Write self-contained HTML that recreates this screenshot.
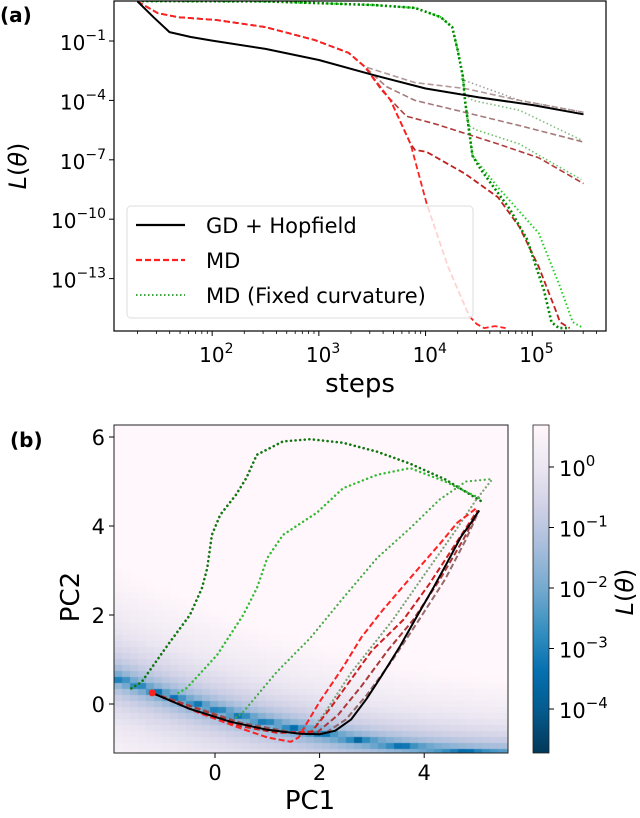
<!DOCTYPE html>
<html><head><meta charset="utf-8"><style>
html,body{margin:0;padding:0;background:#fff;}
svg text{font-family:"DejaVu Sans","Liberation Sans",sans-serif;fill:#000;}
</style></head><body>
<svg id="fig" width="640" height="813" viewBox="0 0 640 813" xmlns="http://www.w3.org/2000/svg">
<defs>
<clipPath id="clipA"><rect x="114" y="1" width="492" height="330"/></clipPath>
<clipPath id="clipB"><rect x="114" y="425" width="394" height="328"/></clipPath>
<linearGradient id="cbar" x1="0" y1="1" x2="0" y2="0">
<stop offset="0" stop-color="#023858"/><stop offset="0.125" stop-color="#045a8d"/><stop offset="0.25" stop-color="#0570b0"/><stop offset="0.375" stop-color="#3690c0"/><stop offset="0.5" stop-color="#74a9cf"/><stop offset="0.625" stop-color="#a6bddb"/><stop offset="0.75" stop-color="#d0d1e6"/><stop offset="0.875" stop-color="#ece7f2"/><stop offset="1" stop-color="#fff7fb"/>
</linearGradient>
</defs>
<text x="0" y="22" font-size="20" font-weight="bold">(a)</text>
<text x="10" y="447" font-size="20" font-weight="bold">(b)</text>
<g id="gA"></g>
<g id="gB"></g>
</svg>
<script>
// ---------- Panel (a) data: [log10(steps), log10(L)] ----------
const xTicksA = [2, 3, 4, 5];
const yTicksA = [-1, -4, -7, -10, -13];
const gdHopfield = [[1.3,1.0],[1.45,0.2],[1.6,-0.55],[1.8,-0.8],[2,-0.98],[2.5,-1.4],[3,-1.96],[3.5,-2.7],[4,-3.4],[4.5,-3.85],[5,-4.23],[5.48,-4.7]];
const redHead = [[1.3,1.0],[1.49,0.41],[1.68,0.2],[2.04,0.06],[2.5,-0.3],[2.96,-0.95],[3.28,-1.6],[3.43,-2.3]];
const mdRed1 = redHead.concat([[3.67,-3.98],[3.86,-6.2],[4.01,-9.2],[4.21,-12.4],[4.41,-14.9],[4.48,-15.3],[4.55,-15.5],[4.65,-15.4],[4.75,-15.5]]);
const mdRed2 = redHead.concat([[3.67,-3.98],[3.86,-6.2],[3.9,-6.5],[4.01,-6.6],[4.37,-7.7],[4.68,-8.9],[4.88,-10.4],[5.06,-12.4],[5.22,-14.6],[5.26,-15.2],[5.35,-15.5]]);
const mdRed3 = redHead.concat([[3.59,-3.5],[3.82,-4.8],[4.1,-5.2],[4.68,-6.2],[5.06,-6.9],[5.48,-8.2]]);
const mdRed4 = redHead.concat([[3.63,-3.3],[3.9,-4.0],[4.29,-4.5],[4.9,-5.3],[5.48,-6.1]]);
const mdRed5 = redHead.concat([[3.9,-3.1],[4.37,-3.4],[4.88,-4.0],[5.48,-4.6]]);
const greenHead = [[1.3,1.02],[2.5,1.0],[3.51,0.82],[3.9,0.67],[4.14,0.21],[4.25,-0.3],[4.3,-1.45],[4.35,-2.8],[4.37,-4.0],[4.41,-5.6],[4.44,-6.8]];
const mdFixed1 = greenHead.concat([[4.52,-7.5],[4.79,-9.5],[4.95,-11],[5.11,-13.6],[5.18,-15.2],[5.25,-15.5],[5.35,-15.5]]);
const mdFixed2 = greenHead.concat([[4.68,-8.4],[5.06,-10.7],[5.26,-13.4],[5.38,-15.2],[5.48,-15.5]]);
const mdFixed3 = [[4.41,-5.3],[4.48,-5.5],[4.88,-6.2],[5.46,-8.0]];
const mdFixed4 = [[4.4,-3.8],[4.44,-4.0],[4.88,-4.5],[5.46,-6.0]];
const mdFixed5 = [[4.33,-2.9],[4.37,-3.0],[4.88,-4.0],[5.48,-4.6]];

// ---------- Panel (b) data: [PC1, PC2] ----------
const xTicksB = [0, 2, 4];
const yTicksB = [0, 2, 4, 6];
const cbTicks = [0, -1, -2, -3, -4];
const trajBlack = [[-1.2,0.25],[-0.5,-0.1],[0.3,-0.4],[1,-0.58],[1.63,-0.67],[2.0,-0.68],[2.3,-0.6],[2.6,-0.35],[2.9,0.12],[3.2,0.66],[3.54,1.3],[3.85,1.95],[4.17,2.6],[4.45,3.2],[4.7,3.75],[4.9,4.08],[5.05,4.35]];
const trajRed1 = [[-1.2,0.25],[-0.3,-0.2],[0.5,-0.55],[1,-0.75],[1.45,-0.85],[1.6,-0.75],[1.68,-0.58],[2.0,0.05],[2.45,0.83],[2.8,1.5],[3.2,2.1],[3.6,2.65],[3.98,3.17],[4.3,3.6],[4.63,4.07],[5.0,4.4]];
const trajRed2 = [[-1.2,0.25],[-0.3,-0.2],[0.5,-0.5],[1.2,-0.65],[1.85,-0.62],[2.2,-0.1],[2.6,0.55],[3.0,1.2],[3.6,1.89],[4.1,2.7],[4.6,3.6],[5.02,4.35]];
const trajRed3 = [[-1.2,0.25],[0.5,-0.45],[1.3,-0.63],[1.95,-0.64],[2.35,-0.25],[2.8,0.4],[3.3,1.2],[3.79,1.89],[4.3,2.8],[4.75,3.7],[5.04,4.35]];
const trajRed4 = [[-1.2,0.25],[0.5,-0.42],[1.5,-0.64],[2.1,-0.66],[2.5,-0.35],[2.9,0.2],[3.4,1.0],[3.9,1.89],[4.4,2.8],[4.8,3.7],[5.05,4.35]];
const trajGreen1 = [[-1.6,0.35],[-1.4,0.5],[-0.9,1.33],[-0.48,2.0],[-0.25,2.6],[-0.15,3.05],[-0.06,3.8],[0.1,4.25],[0.4,4.7],[0.6,5.08],[0.8,5.6],[1.3,5.9],[1.82,5.95],[2.45,5.87],[3.1,5.67],[3.73,5.4],[4.4,5.05],[5.1,4.55]];
const trajGreen2 = [[-0.7,0.25],[-0.54,0.36],[0.04,1.1],[0.54,2.0],[0.8,2.6],[1.0,3.28],[1.3,3.8],[1.95,4.3],[2.45,4.85],[3.1,5.15],[3.73,5.3],[4.4,5.0],[5.1,4.6]];
const trajGreen3 = [[0.4,-0.3],[0.54,-0.18],[1.18,0.72],[1.82,1.48],[2.45,2.38],[3.1,3.28],[3.73,3.95],[4.3,4.6],[4.8,5.0],[5.25,5.05]];
const trajGreen4 = [[1.85,-0.6],[2.1,-0.2],[2.6,0.7],[3.4,1.89],[4.0,2.9],[4.6,3.9],[5.0,4.6],[5.3,5.05]];

const NS = 'http://www.w3.org/2000/svg';
function mk(tag, attrs, parent){const e=document.createElementNS(NS,tag);for(const k in attrs)e.setAttribute(k,attrs[k]);parent.appendChild(e);return e;}

const ax = v => 114 + (v - 1.08) * 106.7;
const ay = v => 41 + (-1 - v) * 19.8;
const bx = v => 215 + v * 52.3;
const by = v => 704 - v * 44.5;
const cy = v => 467 - v * 60.5;

const gA = document.getElementById('gA');
const gB = document.getElementById('gB');

function pathD(pts, fx, fy){return pts.map((p,i)=>(i?'L':'M')+fx(p[0]).toFixed(1)+' '+fy(p[1]).toFixed(1)).join(' ');}

// ---- Panel a ----
const plotA = mk('g',{'clip-path':'url(#clipA)'},gA);


function lineA(pts, color, dash, w, name, op){
  const p = mk('path',{d:pathD(pts,ax,ay),fill:'none',stroke:color,'stroke-width':w,'stroke-dasharray':dash,opacity:op,'stroke-linejoin':'round'},plotA);
  
  
}
lineA(mdFixed5,'#8a8a8a','1.5 2.5',1.6,'md-fixed-curve-5',0.8);
lineA(mdRed5,'#a08080','6 3',1.6,'md-curve-5',0.8);
lineA(mdFixed4,'#66aa66','1.5 2.5',1.6,'md-fixed-curve-4',0.8);
lineA(mdRed4,'#9a6a6a','6 3',1.6,'md-curve-4',0.9);
lineA(mdFixed3,'#55bb55','1.5 2.5',1.6,'md-fixed-curve-3',0.9);
lineA(mdRed3,'#b03a3a','6 3',1.6,'md-curve-3',1);
lineA(mdRed2,'#c02020','6 3',1.8,'md-curve-2',1);
lineA(mdRed1,'#ff2020','6 3',1.8,'md-curve-1',1);
lineA(mdFixed2,'#22cc22','1.5 2.5',2,'md-fixed-curve-2',1);
lineA(mdFixed1,'#008800','2 2.5',2.6,'md-fixed-curve-1',1);
lineA(gdHopfield,'#000','',2,'gd-hopfield-curve',1);

const frameA = mk('rect',{x:114,y:1,width:492,height:330,fill:'none',stroke:'#000','stroke-width':1.2},gA);


xTicksA.forEach(t=>{
  const tk = mk('line',{x1:ax(t),x2:ax(t),y1:331,y2:336,stroke:'#000','stroke-width':1},gA);
  
  
  const tx = mk('text',{x:ax(t)-13,y:362,'font-size':20},gA);
  
  
  tx.innerHTML = '10<tspan dy="-9" font-size="14">'+t+'</tspan>';
});
for(let d=1;d<6;d++){for(let m=2;m<10;m++){const v=d+Math.log10(m);if(v<1.08||v>5.69)continue;
  const mt=mk('line',{x1:ax(v),x2:ax(v),y1:331,y2:334,stroke:'#000','stroke-width':0.8},gA);
  
  }}
yTicksA.forEach(t=>{
  const tk = mk('line',{x1:109,x2:114,y1:ay(t),y2:ay(t),stroke:'#000','stroke-width':1},gA);
  
  
  const tx = mk('text',{x:106,y:ay(t)+9,'font-size':20,'text-anchor':'end'},gA);
  
  
  tx.innerHTML = '10<tspan dy="-10" font-size="14">\u2212'+(-t)+'</tspan>';
});
const xl = mk('text',{x:360,y:392,'font-size':26,'text-anchor':'middle'},gA);


xl.textContent='steps';
const yl = mk('text',{x:0,y:0,'font-size':24,'text-anchor':'middle',transform:'translate(26,166) rotate(-90)'},gA);


yl.innerHTML='<tspan font-style="italic">L</tspan>(<tspan font-style="italic">θ</tspan>)';
const leg = mk('g',{},gA);


const lb = mk('rect',{x:127,y:206,width:346,height:112,rx:4,fill:'#fff','fill-opacity':0.8,stroke:'#ddd','stroke-width':1},leg);


[['GD + Hopfield','#000','',2.2,225],['MD','#ff2020','6 3',2.2,260],['MD (Fixed curvature)','#008800','1.5 2.5',1.6,295]].forEach((e,i)=>{
  const l=mk('line',{x1:136,x2:185,y1:e[4],y2:e[4],stroke:e[1],'stroke-width':e[3],'stroke-dasharray':e[2]},leg);
  
  
  const t=mk('text',{x:206,y:e[4]+8,'font-size':21},leg);
  
  
  t.textContent=e[0];
});

// ---- Panel b ----
const stops=[[2,56,88],[4,90,141],[5,112,176],[54,144,192],[116,169,207],[166,189,219],[208,209,230],[236,231,242],[255,247,251]];
function cmap(f){f=Math.max(0,Math.min(1,f));const s=f*8,i=Math.min(7,Math.floor(s)),r=s-i;const a=stops[i],b=stops[i+1];return 'rgb('+a.map((c,k)=>Math.round(c+(b[k]-c)*r)).join(',')+')';}
const fo = mk('foreignObject',{x:114,y:425,width:394,height:328},gB);


const cv=document.createElement('canvas');cv.width=394;cv.height=328;cv.style.display='block';
fo.appendChild(cv);
const ctx=cv.getContext('2d');
const cw=8,ch=6;
for(let py=0;py<328;py+=ch){for(let px=0;px<394;px+=cw){
  const X=(114+px+cw/2-215)/52.3, Y=(704-(425+py+ch/2))/44.5;
  const yv=-0.12-0.32*X+0.025*X*X;
  const dy=Y-yv;
  const k = dy>0 ? 0.7+0.12*(X+2) : 0.9;
  const L=Math.min(5,k*dy*dy+0.02*Math.abs(dy))+2e-4;
  const f=(Math.log10(L)+4.73)/(0.69+4.73);
  ctx.fillStyle=cmap(f);ctx.fillRect(px,py,cw,ch);
}}
const plotB = mk('g',{'clip-path':'url(#clipB)'},gB);


function lineB(pts,color,dash,w,name,op,cap){
  const p=mk('path',{d:pathD(pts,bx,by),fill:'none',stroke:color,'stroke-width':w,'stroke-dasharray':dash,opacity:op,'stroke-linecap':cap||'butt','stroke-linejoin':'round'},plotB);
  
  
}
lineB(trajGreen1,'#117711','0.1 4.5',2.6,'fixed-traj-1',1,'round');
lineB(trajGreen2,'#33bb33','0.1 4.5',2.4,'fixed-traj-2',1,'round');
lineB(trajGreen3,'#44aa44','0.1 4.5',2.2,'fixed-traj-3',1,'round');
lineB(trajGreen4,'#6a9a6a','0.1 4',2.2,'fixed-traj-4',0.9,'round');
lineB(trajRed4,'#8a5a5a','6 3',2,'md-traj-4',0.9);
lineB(trajRed3,'#aa3a3a','6 3',2,'md-traj-3',1);
lineB(trajRed2,'#cc2020','6 3',2,'md-traj-2',1);
lineB(trajRed1,'#ff2020','6 3',2,'md-traj-1',1);
lineB(trajBlack,'#000','',2,'gd-traj',1);
const st=mk('circle',{cx:bx(-1.2),cy:by(0.25),r:3.5,fill:'#ff2020'},plotB);


const frameB=mk('rect',{x:114,y:425,width:394,height:328,fill:'none',stroke:'#222','stroke-width':1},gB);


xTicksB.forEach(t=>{
  const tk=mk('line',{x1:bx(t),x2:bx(t),y1:753,y2:758,stroke:'#000'},gB);
  
  
  const tx=mk('text',{x:bx(t),y:780,'font-size':21,'text-anchor':'middle'},gB);
  
  
  tx.textContent=t;
});
yTicksB.forEach(t=>{
  const tk=mk('line',{x1:109,x2:114,y1:by(t),y2:by(t),stroke:'#000'},gB);
  
  
  const tx=mk('text',{x:105,y:by(t)+8,'font-size':21,'text-anchor':'end'},gB);
  
  
  tx.textContent=t;
});
const px1=mk('text',{x:310,y:809,'font-size':26,'text-anchor':'middle'},gB);


px1.textContent='PC1';
const py2=mk('text',{x:0,y:0,'font-size':26,'text-anchor':'middle',transform:'translate(79,597) rotate(-90)'},gB);


py2.textContent='PC2';
const cb=mk('rect',{x:533,y:425,width:16,height:328,fill:'url(#cbar)',stroke:'#222','stroke-width':0.8},gB);


cbTicks.forEach(t=>{
  const tk=mk('line',{x1:549,x2:554,y1:cy(t),y2:cy(t),stroke:'#000'},gB);
  
  
  const tx=mk('text',{x:559,y:cy(t)+9,'font-size':21},gB);
  
  
  tx.innerHTML='10<tspan dy="-10" font-size="15">'+(t===0?'0':'\u2212'+(-t))+'</tspan>';
});
const cbt=mk('text',{x:0,y:0,'font-size':24,'text-anchor':'middle',transform:'translate(633,592) rotate(-90)'},gB);


cbt.innerHTML='<tspan font-style="italic">L</tspan>(<tspan font-style="italic">θ</tspan>)';
</script>
</body></html>
